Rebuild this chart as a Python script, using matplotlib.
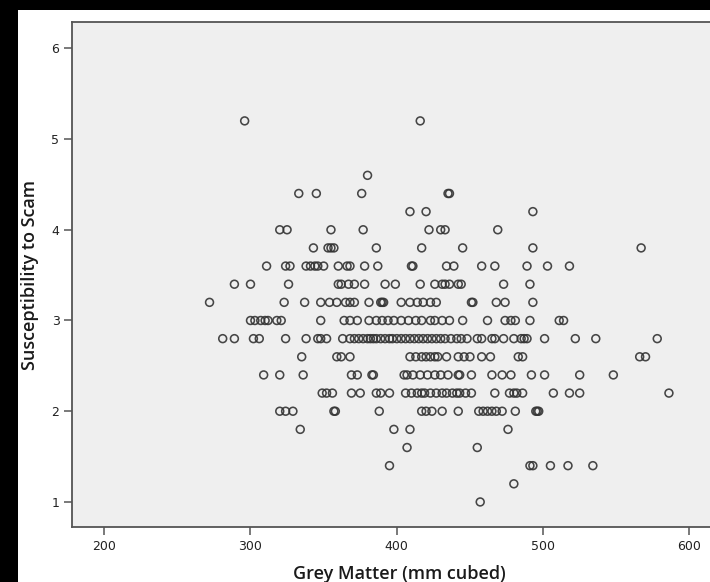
import numpy as np
import matplotlib.pyplot as plt
from matplotlib.patches import Rectangle

# Grey matter readings (mm cubed) for each susceptibility level
gm_52 = [296, 416]
gm_46 = [380]
gm_44 = [333, 345, 376, 435, 436]
gm_42 = [409, 420, 493]
gm_40 = [320, 325, 355, 377, 422, 430, 433, 469]
gm_38 = [343, 353, 355, 357, 386, 417, 445, 493, 567]
gm_36 = [311, 324, 327, 338, 341, 344, 346, 350, 360, 366, 368, 378, 387,
         410, 411, 434, 439, 458, 467, 489, 503, 518]
gm_34 = [289, 300, 326, 360, 362, 367, 371, 378, 392, 399, 416, 426, 431,
         433, 436, 442, 444, 473, 491]
gm_32 = [272, 323, 337, 348, 354, 359, 365, 368, 371, 381, 389, 390, 391,
         403, 409, 414, 418, 423, 427, 451, 452, 468, 474, 493]
gm_30 = [300, 303, 307, 310, 312, 318, 321, 348, 364, 368, 373, 381, 386,
         390, 394, 398, 403, 408, 413, 417, 423, 426, 431, 436, 445, 462,
         474, 478, 481, 491, 511, 514]
gm_28 = [281, 289, 302, 306, 324, 338, 346, 348, 352, 363, 368, 371, 374,
         377, 380, 382, 384, 386, 389, 392, 395, 397, 400, 403, 406, 409,
         412, 415, 418, 421, 424, 427, 430, 433, 437, 441, 444, 448, 455,
         458, 465, 467, 473, 480, 485, 487, 489, 501, 522, 536, 578]
gm_26 = [335, 359, 362, 368, 409, 413, 417, 420, 423, 426, 428, 434, 442,
         446, 450, 458, 464, 483, 486, 566, 570]
gm_24 = [309, 320, 336, 369, 373, 383, 384, 405, 407, 411, 416, 421, 426,
         430, 435, 442, 443, 451, 465, 472, 478, 492, 501, 525, 548]
gm_22 = [349, 352, 356, 369, 375, 386, 389, 395, 406, 410, 414, 417, 419,
         423, 427, 431, 434, 438, 441, 443, 447, 451, 467, 477, 480, 482,
         486, 507, 518, 525, 586]
gm_20 = [320, 324, 329, 357, 358, 388, 417, 420, 424, 431, 442, 456, 459,
         462, 465, 468, 472, 481, 495, 496, 497]
gm_18 = [334, 398, 409, 476]
gm_16 = [407, 455]
gm_14 = [395, 491, 493, 505, 517, 534]
gm_12 = [480]
gm_10 = [457]

levels = [5.2, 4.6, 4.4, 4.2, 4.0, 3.8, 3.6, 3.4, 3.2, 3.0, 2.8, 2.6, 2.4,
          2.2, 2.0, 1.8, 1.6, 1.4, 1.2, 1.0]
rows = [gm_52, gm_46, gm_44, gm_42, gm_40, gm_38, gm_36, gm_34, gm_32, gm_30,
        gm_28, gm_26, gm_24, gm_22, gm_20, gm_18, gm_16, gm_14, gm_12, gm_10]

grey_matter = np.concatenate([np.array(r, float) for r in rows])
scam = np.concatenate([np.full(len(r), lv) for r, lv in zip(rows, levels)])

fig = plt.figure(figsize=(7.1, 5.82), dpi=100)
fig.patch.set_facecolor('white')
# black frame strips from the screenshot
fig.patches.append(Rectangle((0, 0), 18 / 710, 1, transform=fig.transFigure,
                             facecolor='black', edgecolor='none', zorder=-1))
fig.patches.append(Rectangle((0, 1 - 10 / 582), 1, 10 / 582, transform=fig.transFigure,
                             facecolor='black', edgecolor='none', zorder=-1))

ax = fig.add_axes([72 / 710, 55 / 582, 654 / 710, 505 / 582])
ax.set_facecolor('#efefef')
ax.scatter(grey_matter, scam, s=32, facecolors='none', edgecolors='#333333',
           linewidths=1.15, alpha=0.9, clip_on=False)

ax.set_xlim(178, 625)
ax.set_ylim(0.724, 6.29)
ax.set_xticks([200, 300, 400, 500, 600])
ax.set_yticks([1, 2, 3, 4, 5, 6])

for sp in ax.spines.values():
    sp.set_color('#555555')
    sp.set_linewidth(1.3)

ax.tick_params(direction='out', length=5.5, width=1.1, color='#555555',
               labelsize=9, labelcolor='#222222', pad=3.5)
for lab in ax.get_xticklabels() + ax.get_yticklabels():
    lab.set_family('DejaVu Sans')

ax.set_xlabel('Grey Matter (mm cubed)', family='Open Sans', fontweight='semibold',
              fontsize=13, color='#1a1a1a', labelpad=9)
ax.set_ylabel('Susceptibility to Scam', family='Open Sans', fontweight='semibold',
              fontsize=13, color='#1a1a1a', labelpad=9)

fig.savefig('out.png', dpi=100)
